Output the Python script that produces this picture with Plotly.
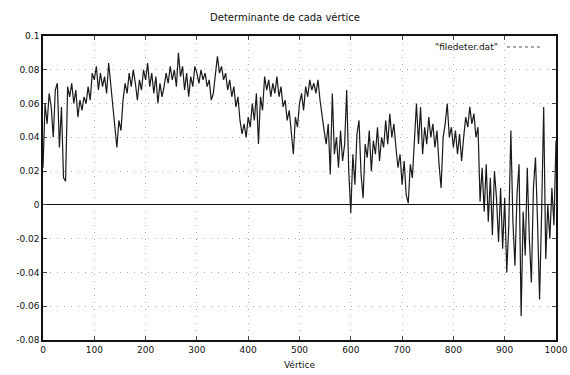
import plotly.graph_objects as go

# Vertex index (step 4) and determinant values
vertices = list(range(0, 1001, 4))

det_0_96 = [0.022, 0.060, 0.048, 0.066, 0.058, 0.040, 0.068, 0.072, 0.034, 0.058,
            0.016, 0.014, 0.070, 0.064, 0.072, 0.060, 0.068, 0.052, 0.062, 0.056,
            0.064, 0.060, 0.070, 0.062, 0.078]
det_100_196 = [0.074, 0.082, 0.068, 0.078, 0.070, 0.076, 0.066, 0.084, 0.072, 0.060,
               0.048, 0.034, 0.050, 0.044, 0.062, 0.072, 0.066, 0.078, 0.070, 0.080,
               0.072, 0.062, 0.074, 0.068, 0.080]
det_200_296 = [0.074, 0.084, 0.070, 0.078, 0.066, 0.076, 0.060, 0.072, 0.064, 0.070,
               0.078, 0.072, 0.082, 0.074, 0.080, 0.070, 0.090, 0.076, 0.082, 0.068,
               0.078, 0.064, 0.076, 0.070, 0.082]
det_300_396 = [0.078, 0.072, 0.080, 0.074, 0.078, 0.070, 0.074, 0.062, 0.066, 0.078,
               0.088, 0.078, 0.082, 0.074, 0.078, 0.068, 0.074, 0.064, 0.070, 0.058,
               0.064, 0.050, 0.042, 0.048, 0.040]
det_400_496 = [0.052, 0.046, 0.060, 0.050, 0.066, 0.036, 0.064, 0.056, 0.076, 0.068,
               0.074, 0.064, 0.072, 0.066, 0.076, 0.064, 0.070, 0.058, 0.062, 0.050,
               0.056, 0.044, 0.030, 0.052, 0.046]
det_500_596 = [0.060, 0.066, 0.056, 0.070, 0.064, 0.074, 0.068, 0.072, 0.066, 0.074,
               0.062, 0.052, 0.044, 0.036, 0.048, 0.018, 0.066, 0.030, 0.040, 0.022,
               0.044, 0.026, 0.036, 0.068, 0.020]
det_600_696 = [-0.005, 0.030, 0.012, 0.042, 0.050, 0.018, 0.004, 0.036, 0.028, 0.044,
               0.020, 0.038, 0.030, 0.046, 0.026, 0.040, 0.034, 0.050, 0.036, 0.054,
               0.040, 0.048, 0.034, 0.022, 0.030]
det_700_796 = [0.012, 0.026, 0.006, 0.001, 0.024, 0.016, 0.040, 0.060, 0.036, 0.058,
               0.030, 0.046, 0.036, 0.052, 0.040, 0.048, 0.034, 0.044, 0.024, 0.010,
               0.040, 0.048, 0.060, 0.040, 0.046]
det_800_896 = [0.034, 0.044, 0.030, 0.042, 0.026, 0.040, 0.052, 0.046, 0.058, 0.048,
               0.054, 0.040, 0.046, 0.002, 0.022, -0.004, 0.024, -0.010, 0.016, -0.018,
               0.020, 0.004, -0.022, 0.010, -0.026]
det_900_1000 = [0.004, -0.040, -0.012, 0.044, -0.010, -0.036, 0.006, 0.024, -0.066, -0.004,
                -0.030, 0.022, -0.020, -0.046, 0.010, 0.028, -0.010, -0.056, -0.004, 0.058,
                -0.032, 0.000, -0.020, 0.010, -0.012, 0.038]

determinant = (det_0_96 + det_100_196 + det_200_296 + det_300_396 + det_400_496 +
               det_500_596 + det_600_696 + det_700_796 + det_800_896 + det_900_1000)

x_ticks = [0, 100, 200, 300, 400, 500, 600, 700, 800, 900, 1000]
y_ticks = [0.1, 0.08, 0.06, 0.04, 0.02, 0, -0.02, -0.04, -0.06, -0.08]
y_tick_labels = ["0.1", "0.08", "0.06", "0.04", "0.02", "0", "-0.02", "-0.04", "-0.06", "-0.08"]

font = dict(family="DejaVu Sans", size=9, color="#111")

fig = go.Figure()
fig.add_trace(go.Scatter(
    x=vertices, y=determinant, mode="lines",
    line=dict(color="#1a1a1a", width=1.2),
    name='"filedeter.dat"', showlegend=False,
))

fig.update_layout(
    width=570, height=375,
    margin=dict(l=43, r=14, t=36, b=35),
    paper_bgcolor="white", plot_bgcolor="white",
    font=font,
    title=dict(text="Determinante de cada vértice", x=0.5, xanchor="center",
               y=1 - 17 / 375, yanchor="middle", font=dict(family="DejaVu Sans", size=10, color="#111")),
    xaxis=dict(range=[0, 1000], tickvals=x_ticks, ticks="inside", ticklen=4,
               showline=True, linecolor="#111", linewidth=1.5, mirror="ticks",
               showgrid=True, gridcolor="#aaa", griddash="1px,6px", gridwidth=1.2,
               zeroline=False, tickfont=font, automargin=False,
               title=dict(text="Vértice", font=font, standoff=8)),
    yaxis=dict(range=[-0.08, 0.1], tickvals=y_ticks, ticktext=y_tick_labels,
               ticks="inside", ticklen=4, automargin=False,
               showline=True, linecolor="#111", linewidth=1.5, mirror="ticks",
               showgrid=True, gridcolor="#aaa", griddash="1px,6px", gridwidth=1.2,
               zeroline=True, zerolinecolor="#111", zerolinewidth=1.2,
               tickfont=font),
)

# gnuplot-style key: text with sample line to its right
fig.add_annotation(xref="paper", yref="paper", x=(500 - 43) / 513, y=(340 - 47) / 304,
                   text='"filedeter.dat"', showarrow=False, xanchor="right", yanchor="middle",
                   font=font)
fig.add_shape(type="line", xref="paper", yref="paper",
              x0=(507 - 43) / 513, x1=(540 - 43) / 513,
              y0=(340 - 47) / 304, y1=(340 - 47) / 304,
              line=dict(color="#555", width=1, dash="dot"))

fig.write_html("out.html", config={"displayModeBar": False},
               post_script="document.body.style.margin='0';document.body.style.overflow='hidden';")
